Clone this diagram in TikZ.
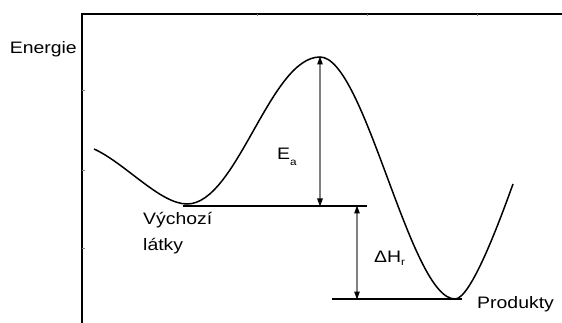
\documentclass[tikz,border=0pt]{standalone}
\usepackage{fontspec}
\setmainfont{Liberation Sans}
\usetikzlibrary{arrows.meta,positioning}
\definecolor{shaft}{HTML}{808080}
\tikzset{
  axis/.style={black, line width=1.3pt},
  tick/.style={shaft, line width=0.8pt},
  curve/.style={black, line width=1.5pt},
  lvl/.style={black, line width=1.2pt},
  dim/.style={{Triangle[length=8pt,width=5.5pt,color=black]}-{Triangle[length=8pt,width=5.5pt,color=black]}, shaft, line width=1.2pt, shorten <=-0.5pt, shorten >=-0.5pt},
  lab/.style={text=black, font=\fontsize{16.6}{19}\selectfont, inner sep=0pt, xscale=1.17, transform shape},
}
\newcommand{\subr}[2]{\raisebox{#1}{\fontsize{10}{12}\selectfont #2}}

\begin{document}
\begin{tikzpicture}[x=1pt, y=-1pt]
  \useasboundingbox (0,0) rectangle (562,323);
  % axes
  \coordinate (origin) at (82,323);
  \coordinate (corner) at (82,14);
  \coordinate (topend) at (562,14);
  \draw[axis] (origin) -- (corner) -- (topend);
  \foreach \y in {90,170,248}{\draw[tick] (82,\y) -- ++(3,0);}
  \foreach \x in {257,367,477}{\draw[tick] (\x,14) -- ++(0,2.5);}
  \node[lab, anchor=base east] (energie) at (77,53.5) {Energie};

  % reaction profile
  \coordinate (start) at (94,149);
  \coordinate (react) at (187,204);
  \coordinate (peak) at (320,57);
  \coordinate (prod) at (455,299);
  \coordinate (stop) at (513,184);
  \draw[curve] (start) .. controls (125,163) and (160,204) .. (react)
    .. controls (237,204) and (270,57) .. (peak)
    .. controls (365,57) and (410,299) .. (prod)
    .. controls (471,299) and (500,220) .. (stop);

  % energy levels
  \coordinate (reactend) at (367,206);
  \coordinate (prodstart) at (332,299);
  \coordinate (prodend) at (462,299);
  \draw[lvl] (183,206) -- (reactend);
  \draw[lvl] (prodstart) -- (prodend);

  % activation energy and reaction enthalpy
  \coordinate (eabase) at (320,206);
  \coordinate (dhtop) at (357,206);
  \coordinate (dhbot) at (357,299);
  \draw[dim] (eabase) -- (peak);
  \draw[dim] (dhtop) -- (dhbot);
  \node[lab, anchor=base west] (ea) at (277,160) {E\subr{-6pt}{a}};
  \node[lab, anchor=base west] (dh) at (374,262) {ΔH\subr{-3pt}{r}};

  \node[lab, anchor=base west] (vychozi) at (143,225) {Výchozí};
  \node[lab, anchor=base west] (latky) at (143,250) {látky};
  \node[lab, anchor=base west] (produkty) at (477,308) {Produkty};
\end{tikzpicture}
\end{document}
